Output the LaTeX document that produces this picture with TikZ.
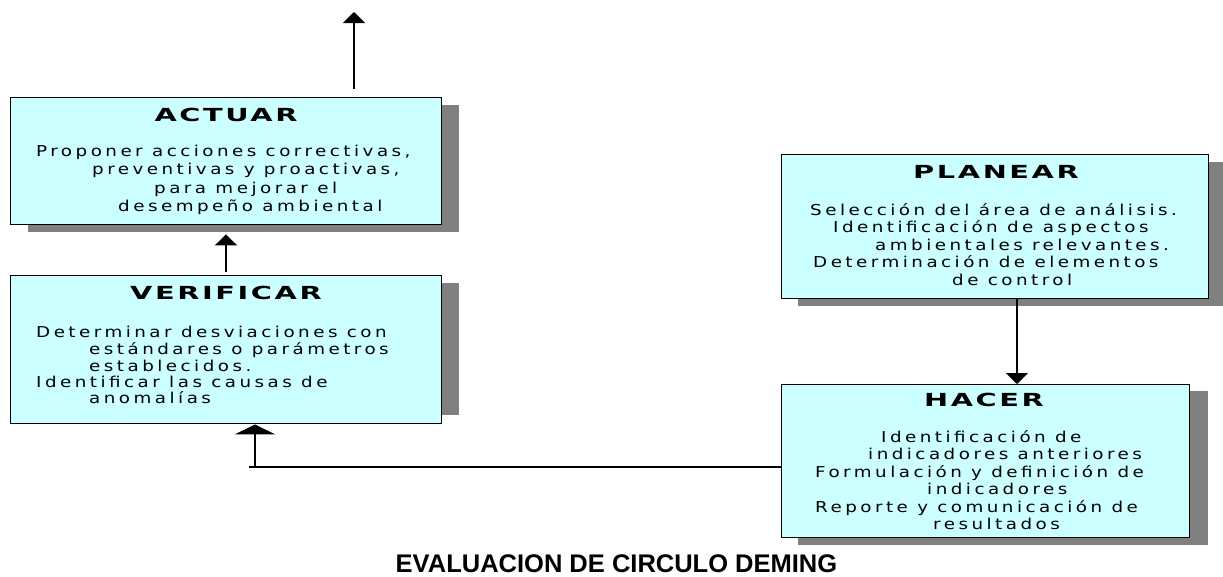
\documentclass[tikz,border=0pt]{standalone}
\usepackage{fontspec}
\usepackage{graphicx}
\setmainfont{DejaVu Sans}
\newfontfamily\bodyfnt[LetterSpace=19]{DejaVu Sans}
\newfontfamily\headfnt[LetterSpace=9]{DejaVu Sans}
\newfontfamily\titlefnt{Liberation Sans}
\usetikzlibrary{arrows.meta}
\definecolor{boxfill}{RGB}{204,255,255}
\definecolor{shadowc}{RGB}{128,128,128}
\newcommand{\bodyline}[4]{\node[bodytxt] (#1) at (#2,#3) {\scalebox{1.22}[1]{#4}};}
\newcommand{\headline}[4]{\node[headtxt] (#1) at (#2,#3) {\scalebox{1.6}[1]{#4}};}
\begin{document}
\begin{tikzpicture}[x=1pt,y=-1pt,
  box/.style={draw=black, line width=1.4pt, fill=boxfill, anchor=north west, inner sep=0pt},
  bodytxt/.style={anchor=base west, inner sep=0pt, font=\fontsize{15}{17}\bodyfnt},
  headtxt/.style={anchor=base, inner sep=0pt, font=\fontsize{18}{20}\headfnt\bfseries},
  conn/.style={line width=1.8pt, draw=black},
  tipA/.style={-{Triangle[width=22pt,length=11pt]}},
  tipB/.style={-{Triangle[width=40pt,length=10pt]}},
]
\useasboundingbox (0,0) rectangle (1223,576);
% shadows
\fill[shadowc] (28,105) rectangle (459,232);
\fill[shadowc] (441,283) rectangle (459,415);
\fill[shadowc] (798,162) rectangle (1225,306);
\fill[shadowc] (798,391) rectangle (1208,545);
% boxes
\node[box, minimum width=431pt, minimum height=127pt] (actuar) at (10,97) {};
\node[box, minimum width=431pt, minimum height=148pt] (verificar) at (10,275) {};
\node[box, minimum width=427pt, minimum height=144pt] (planear) at (781,154) {};
\node[box, minimum width=408pt, minimum height=153pt] (hacer) at (781,384) {};
% headings
\headline{hA}{226}{121}{ACTUAR}
\headline{hV}{226}{299}{VERIFICAR}
\headline{hP}{996}{178}{PLANEAR}
\headline{hH}{984}{406}{HACER}
% ACTUAR text
\bodyline{a1}{36}{156}{Proponer acciones correctivas,}
\bodyline{a2}{92}{174.5}{preventivas y proactivas,}
\bodyline{a3}{154}{193}{para mejorar el}
\bodyline{a4}{118}{211.5}{desempeño ambiental}
% VERIFICAR text
\bodyline{v1}{36}{337}{Determinar desviaciones con}
\bodyline{v2}{89}{354}{estándares o parámetros}
\bodyline{v3}{89}{371}{establecidos.}
\bodyline{v4}{36}{387}{Identificar las causas de}
\bodyline{v5}{89}{403.5}{anomalías}
% PLANEAR text
\bodyline{p1}{810}{215}{Selección del área de análisis.}
\bodyline{p2}{833}{232.5}{Identificación de aspectos}
\bodyline{p3}{875}{250}{ambientales relevantes.}
\bodyline{p4}{813}{267.5}{Determinación de elementos}
\bodyline{p5}{952}{285}{de control}
% HACER text
\bodyline{c1}{881}{442}{Identificación de}
\bodyline{c2}{868}{459.5}{indicadores anteriores}
\bodyline{c3}{815}{477}{Formulación y definición de}
\bodyline{c4}{927}{494.5}{indicadores}
\bodyline{c5}{815}{512}{Reporte y comunicación de}
\bodyline{c6}{933}{529.5}{resultados}
% connectors
\coordinate (upend) at (354,12);
\draw[conn, tipA, shorten <=8pt] (354,0 |- actuar.north) -- (upend);
\draw[conn, tipA, shorten <=3pt, shorten >=9pt] (226,0 |- verificar.north) -- (226,0 |- actuar.south);
\draw[conn, tipA] (1017,0 |- planear.south) -- (1017,0 |- hacer.north);
\coordinate (junc) at (255,467);
\coordinate (lineend) at (249,467);
\draw[line width=1.4pt] (hacer.west |- junc) -- (lineend);
\draw[conn, tipB] (junc) -- (255,0 |- verificar.south);
% caption
\node[anchor=base, inner sep=0pt, font=\fontsize{25.5}{30}\titlefnt\bfseries] (caption) at (616.5,572) {EVALUACION DE CIRCULO DEMING};
\end{tikzpicture}
\end{document}
